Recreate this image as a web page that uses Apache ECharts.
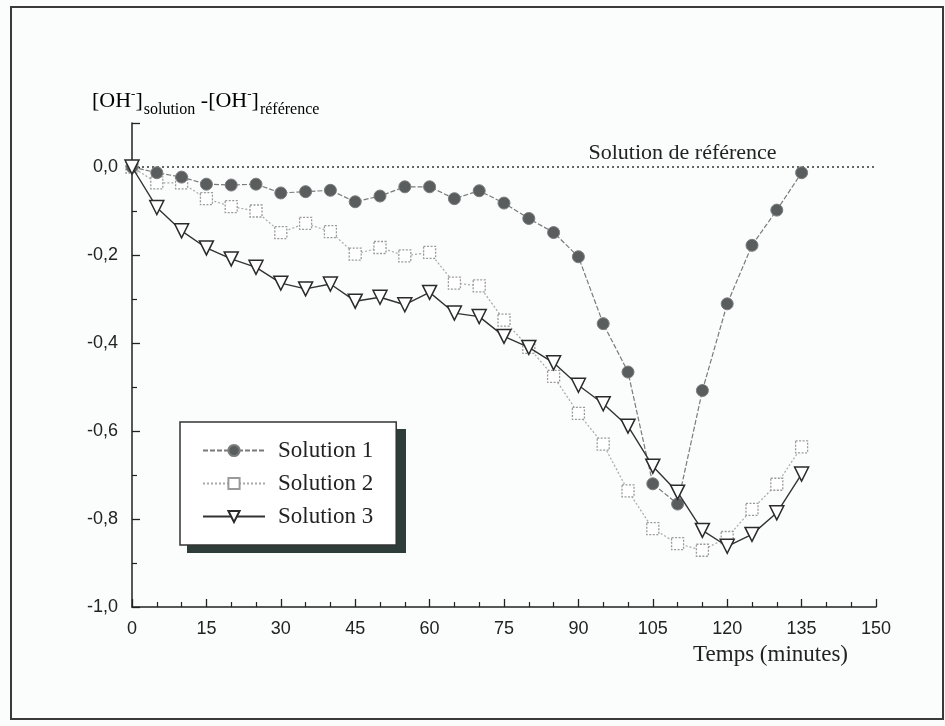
<!DOCTYPE html>
<html>
<head>
<meta charset="utf-8">
<script src="https://cdn.jsdelivr.net/npm/echarts@6/dist/echarts.min.js"></script>
<style>
  html, body { margin: 0; padding: 0; background: #fbfcfc; }
  #chart { width: 945px; height: 726px; }
</style>
</head>
<body>
<div id="chart"></div>
<script>
// time in minutes
const temps = [0, 5, 10, 15, 20, 25, 30, 35, 40, 45, 50, 55, 60, 65, 70, 75, 80, 85, 90, 95, 100, 105, 110, 115, 120, 125, 130, 135];

const solution1 = [0, -0.013, -0.023, -0.039, -0.041, -0.039, -0.059, -0.056, -0.053, -0.079, -0.066, -0.045, -0.045, -0.072,
  -0.054, -0.082, -0.117, -0.149, -0.204, -0.356, -0.466, -0.720, -0.766, -0.508, -0.311, -0.178, -0.098, -0.013];
const solution2 = [0, -0.036, -0.036, -0.072, -0.090, -0.100, -0.149, -0.128, -0.147, -0.198, -0.183, -0.202, -0.194, -0.264,
  -0.270, -0.348, -0.410, -0.476, -0.560, -0.630, -0.736, -0.822, -0.856, -0.871, -0.842, -0.778, -0.721, -0.636];
const solution3 = [0, -0.092, -0.145, -0.184, -0.209, -0.228, -0.264, -0.277, -0.266, -0.305, -0.296, -0.313, -0.285, -0.332,
  -0.340, -0.385, -0.410, -0.445, -0.496, -0.538, -0.589, -0.680, -0.739, -0.826, -0.862, -0.835, -0.786, -0.698];

const seriesNames = ['Solution 1', 'Solution 2', 'Solution 3'];
const refLine = [[0, 0], [150, 0]];
const refLabel = 'Solution de référence';

const pairs = (ys) => temps.map((t, i) => [t, ys[i]]);
const serif = 'Liberation Serif, Times New Roman, serif';
const sans = 'Liberation Sans, Arial, sans-serif';

const chart = echarts.init(document.getElementById('chart'));

const option = {
  backgroundColor: '#fbfcfc',
  animation: false,
  grid: { left: 132, right: 69, top: 123, bottom: 119 },
  graphic: [
    {
      type: 'rect',
      shape: { x: 11, y: 7, width: 932, height: 712 },
      style: { fill: 'none', stroke: '#3a3a3a', lineWidth: 2 },
      silent: true
    },
    {
      // legend drop shadow
      type: 'rect',
      z: 1,
      shape: { x: 187, y: 429, width: 219, height: 124 },
      style: { fill: '#2f3d3a' },
      silent: true
    },
    {
      type: 'text',
      left: 92,
      top: 84,
      style: {
        text: '{m|[OH}{s|-}{m|]}{b|solution}{m| -[OH}{s|-}{m|]}{b|référence}',
        rich: {
          m: { fontFamily: serif, fontSize: 22, color: '#222', lineHeight: 34, verticalAlign: 'middle' },
          s: { fontFamily: serif, fontSize: 13, color: '#222', lineHeight: 34, verticalAlign: 'top', padding: [4, 0, 0, 0] },
          b: { fontFamily: serif, fontSize: 16, color: '#222', lineHeight: 34, verticalAlign: 'bottom', padding: [0, 0, 0, 1] }
        }
      }
    }
  ],
  legend: {
    data: seriesNames,
    orient: 'vertical',
    left: 180,
    top: 422,
    z: 4,
    padding: [17, 23, 17, 22],
    itemWidth: 62,
    itemHeight: 14,
    itemGap: 10,
    backgroundColor: '#ffffff',
    borderColor: '#333',
    borderWidth: 1.5,
    textStyle: { fontFamily: serif, fontSize: 23, color: '#222', padding: [0, 0, 0, 8] }
  },
  xAxis: {
    type: 'value',
    min: 0,
    max: 150,
    interval: 15,
    name: 'Temps (minutes)',
    nameLocation: 'end',
    nameGap: -28,
    nameTextStyle: {
      fontFamily: serif, fontSize: 23, color: '#222',
      align: 'right', verticalAlign: 'top', padding: [36, 0, 0, 0]
    },
    axisLine: { onZero: false, lineStyle: { color: '#222', width: 1.5 } },
    axisTick: { inside: true, length: 8, lineStyle: { color: '#222', width: 1.3 } },
    minorTick: { show: true, splitNumber: 3, length: 5, lineStyle: { color: '#222', width: 1.2 } },
    axisLabel: { fontFamily: sans, fontSize: 18, color: '#222', margin: 13 },
    splitLine: { show: false }
  },
  yAxis: {
    type: 'value',
    min: -1,
    max: 0.1,
    interval: 0.2,
    axisLine: { show: true, onZero: false, lineStyle: { color: '#222', width: 1.5 } },
    axisTick: { show: true, inside: true, length: 8, lineStyle: { color: '#222', width: 1.3 } },
    minorTick: { show: true, splitNumber: 2, length: 5, lineStyle: { color: '#222', width: 1.2 } },
    axisLabel: {
      fontFamily: sans, fontSize: 18, color: '#222', margin: 14,
      formatter: (v) => (v > 0.05 ? '' : (Math.abs(v) < 1e-9 ? '0,0' : v.toFixed(1).replace('.', ',')))
    },
    splitLine: { show: false }
  },
  series: [
    {
      name: seriesNames[0],
      type: 'line',
      z: 3,
      data: pairs(solution1),
      symbol: 'circle',
      symbolSize: 12,
      itemStyle: { color: '#5a5d5d', borderColor: '#7a7d7d', borderWidth: 1 },
      lineStyle: { color: '#7a7a7a', width: 1.2, type: [5, 2] }
    },
    {
      name: seriesNames[1],
      type: 'line',
      z: 2,
      data: pairs(solution2),
      symbol: 'rect',
      symbolSize: 12,
      itemStyle: { color: '#ffffff', borderColor: '#9a9a9a', borderWidth: 1.3, borderType: [2, 1.5] },
      lineStyle: { color: '#a8a8a8', width: 1.2, type: [2, 2] }
    },
    {
      name: seriesNames[2],
      type: 'line',
      z: 4,
      data: pairs(solution3),
      symbol: 'triangle',
      symbolRotate: 180,
      symbolSize: 14,
      itemStyle: { color: '#ffffff', borderColor: '#2a2a2a', borderWidth: 1.5 },
      lineStyle: { color: '#333', width: 1.4 }
    },
    {
      name: 'reference',
      type: 'line',
      z: 1,
      data: refLine,
      symbol: 'none',
      lineStyle: { color: '#333', width: 1.3, type: [2, 3] },
      markPoint: {
        symbol: 'circle',
        symbolSize: 0,
        data: [{ coord: [111, 0] }],
        label: {
          show: true,
          position: 'top',
          distance: 3,
          formatter: refLabel,
          fontFamily: serif,
          fontSize: 22,
          color: '#222'
        }
      }
    }
  ]
};

chart.setOption(option);
</script>
</body>
</html>
